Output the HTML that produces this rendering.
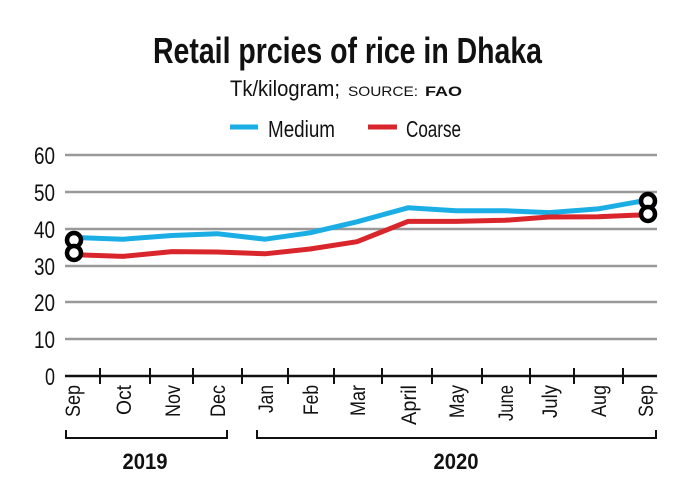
<!DOCTYPE html>
<html><head><meta charset="utf-8"><style>
html,body{margin:0;padding:0;background:#fff;}
svg{display:block;font-family:"Liberation Sans Narrow","Liberation Sans",sans-serif;}
</style></head><body>
<svg width="690" height="493" viewBox="0 0 690 493" xmlns="http://www.w3.org/2000/svg">
<rect width="690" height="493" fill="#fff"/>
<text x="153" y="63" font-size="36" font-weight="bold" textLength="389" lengthAdjust="spacingAndGlyphs" fill="#111">Retail prcies of rice in Dhaka</text>
<text x="230" y="96" font-size="22" textLength="110" lengthAdjust="spacingAndGlyphs" fill="#111">Tk/kilogram;</text>
<text x="348" y="96" font-size="14" font-family="Liberation Sans,sans-serif" textLength="70" lengthAdjust="spacingAndGlyphs" fill="#111">SOURCE:</text>
<text x="425" y="96" font-size="14" font-weight="bold" font-family="Liberation Sans,sans-serif" textLength="37" lengthAdjust="spacingAndGlyphs" fill="#111">FAO</text>
<line x1="230" y1="127" x2="258" y2="127" stroke="#1aaee5" stroke-width="5"/>
<text x="268" y="137" font-size="23" textLength="67" lengthAdjust="spacingAndGlyphs" fill="#111">Medium</text>
<line x1="368" y1="127" x2="397" y2="127" stroke="#d9262c" stroke-width="5"/>
<text x="406" y="137" font-size="23" textLength="55" lengthAdjust="spacingAndGlyphs" fill="#111">Coarse</text>
<g stroke="#999" stroke-width="2.5">
<line x1="65" y1="155" x2="657" y2="155"/>
<line x1="65" y1="192" x2="657" y2="192"/>
<line x1="65" y1="229" x2="657" y2="229"/>
<line x1="65" y1="266" x2="657" y2="266"/>
<line x1="65" y1="302" x2="657" y2="302"/>
<line x1="65" y1="339" x2="657" y2="339"/>
</g>
<g font-size="24" fill="#111" text-anchor="end" lengthAdjust="spacingAndGlyphs">
<text x="55" y="164" textLength="21" lengthAdjust="spacingAndGlyphs">60</text>
<text x="55" y="201" textLength="21" lengthAdjust="spacingAndGlyphs">50</text>
<text x="55" y="238" textLength="21" lengthAdjust="spacingAndGlyphs">40</text>
<text x="55" y="275" textLength="21" lengthAdjust="spacingAndGlyphs">30</text>
<text x="55" y="311" textLength="21" lengthAdjust="spacingAndGlyphs">20</text>
<text x="55" y="348" textLength="21" lengthAdjust="spacingAndGlyphs">10</text>
<text x="55" y="385" textLength="10" lengthAdjust="spacingAndGlyphs">0</text>
</g>
<line x1="65" y1="376" x2="657" y2="376" stroke="#111" stroke-width="2.5"/>
<g stroke="#111" stroke-width="2">
<line x1="100" y1="368" x2="100" y2="384"/><line x1="150" y1="368" x2="150" y2="384"/>
<line x1="193" y1="368" x2="193" y2="384"/><line x1="242" y1="368" x2="242" y2="384"/>
<line x1="288" y1="368" x2="288" y2="384"/><line x1="334" y1="368" x2="334" y2="384"/>
<line x1="382" y1="368" x2="382" y2="384"/><line x1="432" y1="368" x2="432" y2="384"/>
<line x1="482" y1="368" x2="482" y2="384"/><line x1="530" y1="368" x2="530" y2="384"/>
<line x1="574" y1="368" x2="574" y2="384"/><line x1="623" y1="368" x2="623" y2="384"/>
</g>
<g font-size="21" fill="#111" text-anchor="end">
<text transform="translate(80,385) rotate(-90)" textLength="32" lengthAdjust="spacingAndGlyphs">Sep</text>
<text transform="translate(131,385) rotate(-90)" textLength="30" lengthAdjust="spacingAndGlyphs">Oct</text>
<text transform="translate(180,385) rotate(-90)" textLength="32" lengthAdjust="spacingAndGlyphs">Nov</text>
<text transform="translate(225,385) rotate(-90)" textLength="32" lengthAdjust="spacingAndGlyphs">Dec</text>
<text transform="translate(273,385) rotate(-90)" textLength="28" lengthAdjust="spacingAndGlyphs">Jan</text>
<text transform="translate(318,385) rotate(-90)" textLength="30" lengthAdjust="spacingAndGlyphs">Feb</text>
<text transform="translate(365,385) rotate(-90)" textLength="31" lengthAdjust="spacingAndGlyphs">Mar</text>
<text transform="translate(416,385) rotate(-90)" textLength="40" lengthAdjust="spacingAndGlyphs">April</text>
<text transform="translate(464,385) rotate(-90)" textLength="33" lengthAdjust="spacingAndGlyphs">May</text>
<text transform="translate(513,385) rotate(-90)" textLength="36" lengthAdjust="spacingAndGlyphs">June</text>
<text transform="translate(557,385) rotate(-90)" textLength="33" lengthAdjust="spacingAndGlyphs">July</text>
<text transform="translate(606,385) rotate(-90)" textLength="32" lengthAdjust="spacingAndGlyphs">Aug</text>
<text transform="translate(653,385) rotate(-90)" textLength="32" lengthAdjust="spacingAndGlyphs">Sep</text>
</g>
<g stroke="#111" stroke-width="2" fill="none">
<polyline points="66,430 66,438 227,438 227,430"/>
<polyline points="257,430 257,438 656,438 656,430"/>
</g>
<text x="145" y="469" font-size="22" font-weight="bold" text-anchor="middle" fill="#111" textLength="45" lengthAdjust="spacingAndGlyphs">2019</text>
<text x="456" y="469" font-size="22" font-weight="bold" text-anchor="middle" fill="#111" textLength="45" lengthAdjust="spacingAndGlyphs">2020</text>
<polyline fill="none" stroke="#1aaee5" stroke-width="5" stroke-linejoin="round" points="72,237.4 123,239.2 172,235.5 217,233.7 265,239.2 310,232.8 357,221.8 408,207.8 456,210.7 505,210.7 549,212.6 598,208.9 645,200.5"/>
<polyline fill="none" stroke="#d9262c" stroke-width="5" stroke-linejoin="round" points="72,254.6 123,256.4 172,251.6 217,252 265,253.8 310,249 357,241.7 408,221.4 456,221.4 505,220.3 549,217 598,216.7 645,214.8"/>
<g fill="#fff" stroke="#000" stroke-width="4.5">
<circle cx="74" cy="240" r="7"/><circle cx="74" cy="253" r="7"/>
<circle cx="648" cy="201" r="7"/><circle cx="648" cy="214" r="7"/>
</g>
</svg>
</body></html>
